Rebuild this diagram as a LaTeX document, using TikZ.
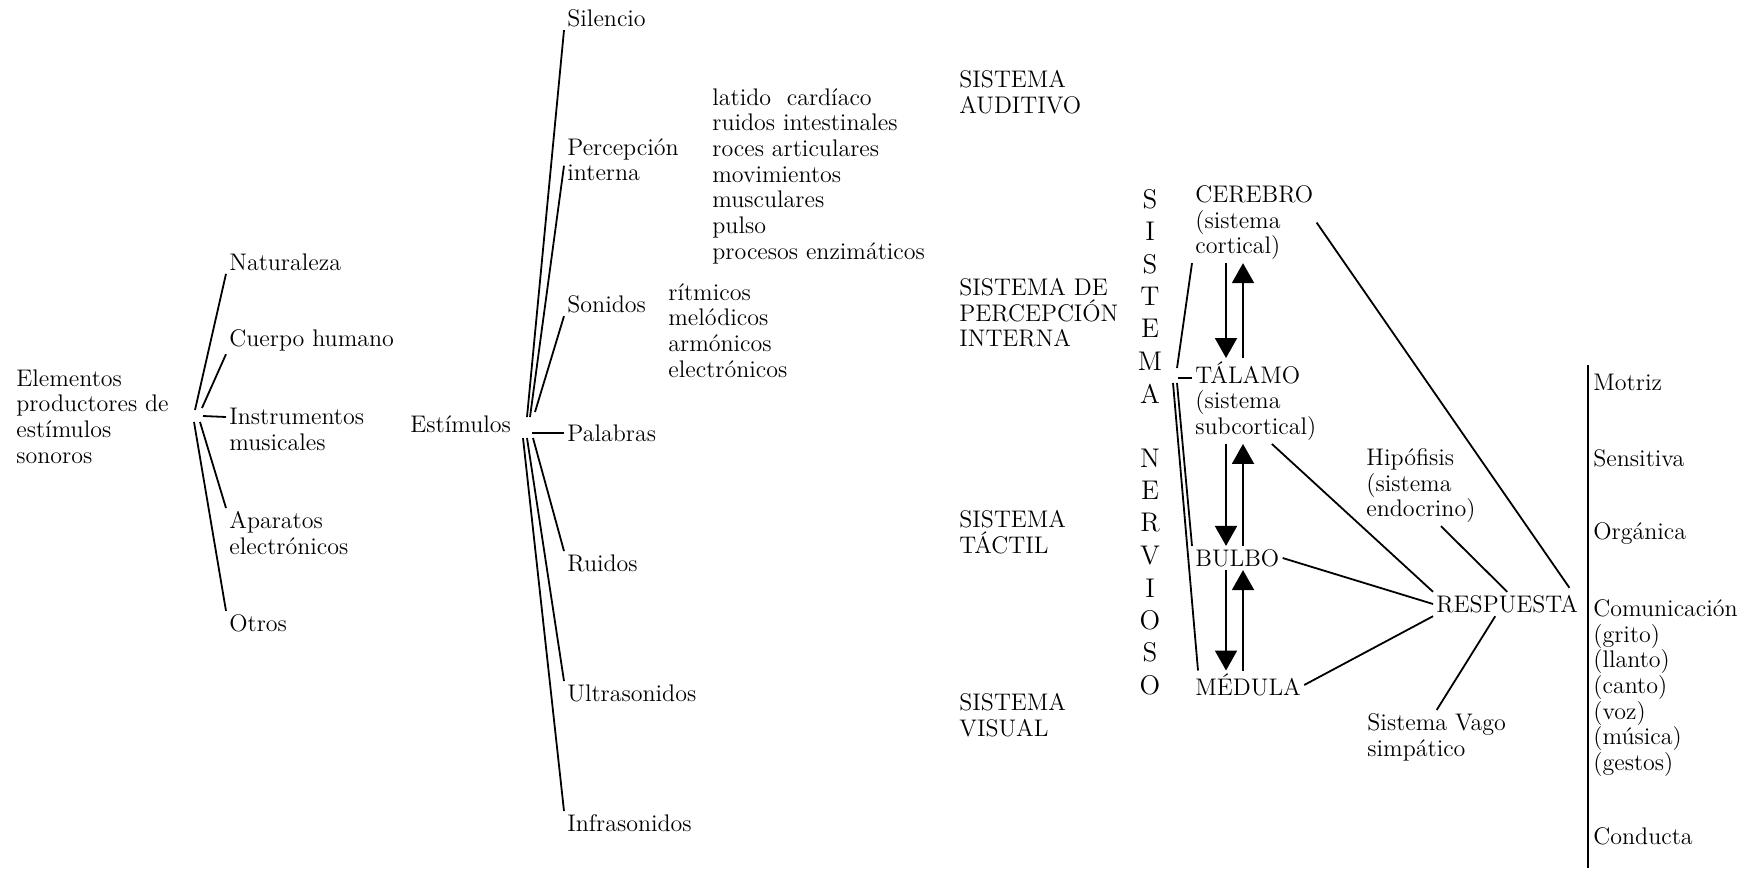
\documentclass[tikz,border=0pt]{standalone}
\usepackage{fontspec}
\usetikzlibrary{arrows.meta}

\begin{document}
\begin{tikzpicture}[
  x=0.5pt, y=-0.5pt,
  font=\fontsize{12}{12.85}\selectfont,
  every node/.style={align=left, inner sep=1.5pt},
  item/.style   = {anchor=west},
  block/.style  = {anchor=north west},
  letter/.style = {font=\fontsize{13.5}{16}\selectfont, inner sep=0pt},
  link/.style   = {line width=0.9pt},
  flow/.style   = {line width=1pt, -{Triangle[length=10pt, width=11pt]}},
]
\useasboundingbox (0,0) rectangle (1764,868);

% ── Sources ───────────────────────────────────────────────────────────────────
\node[block] (elem) at (13,366) {Elementos\\productores de\\estímulos\\sonoros};
\node[item]  (nat)  at (226,262) {Naturaleza};
\node[item]  (cue)  at (226,340) {Cuerpo humano};
\node[block] (ins)  at (226,405) {Instrumentos\\musicales};
\node[block] (apa)  at (226,508) {Aparatos\\electrónicos};
\node[item]  (otr)  at (226,623) {Otros};

\coordinate (fe) at (198,416);
\draw[link] ([xshift=-1.5pt, yshift=3pt]fe) -- (nat.south west);
\draw[link] ([xshift=2pt, yshift=4pt]fe)    -- (cue.south west);
\draw[link] ([xshift=2.5pt]fe)              -- ([yshift=-6pt]ins.north west);
\draw[link] ([xshift=1pt, yshift=-3pt]fe)   -- (apa.north west);
\draw[link] ([xshift=-2pt, yshift=-3pt]fe)  -- (otr.north west);

% ── Stimuli ───────────────────────────────────────────────────────────────────
\node[item]  (est)  at (407,424) {Estímulos};
\node[item]  (sil)  at (564,18)  {Silencio};
\node[block] (per)  at (564,135) {Percepción\\interna};
\node[item]  (son)  at (564,304) {Sonidos};
\node[item]  (pal)  at (564,433) {Palabras};
\node[item]  (rui)  at (564,563) {Ruidos};
\node[item]  (ult)  at (564,693) {Ultrasonidos};
\node[item]  (inf)  at (564,823) {Infrasonidos};

\node[block] (intl) at (709,85)
  {latido\ \ cardíaco\\ruidos intestinales\\roces articulares\\movimientos\\musculares\\pulso\\procesos enzimáticos};
\node[block] (snd)  at (665,280) {rítmicos\\melódicos\\armónicos\\electrónicos};

\coordinate (fs) at (528,428);
\draw[link] ([xshift=-0.5pt, yshift=5.5pt]fs) -- (sil.south west);
\draw[link] ([xshift=1pt, yshift=5.5pt]fs)    -- ([yshift=-3pt]per.west);
\draw[link] ([xshift=3.5pt, yshift=8pt]fs)    -- (son.south west);
\draw[link] ([xshift=2pt, yshift=-2.5pt]fs)   -- (pal.west);
\draw[link] ([xshift=2.5pt, yshift=-5pt]fs)   -- (rui.north west);
\draw[link] ([xshift=-0.5pt, yshift=-5pt]fs)  -- (ult.north west);
\draw[link] ([xshift=-2.5pt, yshift=-5pt]fs)  -- (inf.north west);

% ── Sensory systems ───────────────────────────────────────────────────────────
\node[block] (aud)  at (956,67)  {SISTEMA\\AUDITIVO};
\node[block] (pint) at (956,275) {SISTEMA DE\\PERCEPCIÓN\\INTERNA};
\node[block] (tac)  at (956,507) {SISTEMA\\TÁCTIL};
\node[block] (vis)  at (956,690) {SISTEMA\\VISUAL};

\foreach \l/\k in {S/0,I/1,S/2,T/3,E/4,M/5,A/6,N/8,E/9,R/10,V/11,I/12,O/13,S/14,O/15}{
  \node[letter] (sn\k) at (1150,199+32.4*\k) {\l};
}

% ── Nervous system levels ─────────────────────────────────────────────────────
\node[block] (cer)  at (1192,182) {CEREBRO\\(sistema\\cortical)};
\node[block] (tal)  at (1192,358) {TÁLAMO\\(sistema\\subcortical)};
\node[item]  (bul)  at (1192,558) {BULBO};
\node[item]  (med)  at (1192,685) {MÉDULA};

\coordinate (snm) at (1177,368);
\coordinate (snd) at (1178,378);
\coordinate (sna) at (1175,383);
\draw[link] (snm) -- (cer.south west);
\draw[link] (snd) -- ([yshift=-10pt]tal.north west);
\draw[link] ([xshift=1pt]sna)  -- (bul.north west);
\draw[link] ([xshift=-1pt]sna) -- ([xshift=3pt]med.north west);

\draw[flow] ([xshift=17pt]cer.south west)   -- ([xshift=17pt]tal.north west);
\draw[flow] ([xshift=25.5pt]tal.north west) -- ([xshift=25.5pt]cer.south west);
\draw[flow] ([xshift=17pt]tal.south west)   -- ([xshift=17pt]bul.north west);
\draw[flow] ([xshift=25.5pt]bul.north west) -- ([xshift=25.5pt]tal.south west);
\draw[flow] ([xshift=17pt]bul.south west)   -- ([xshift=17pt]med.north west);
\draw[flow] ([xshift=25.5pt]med.north west) -- ([xshift=25.5pt]bul.south west);

% ── Response ──────────────────────────────────────────────────────────────────
\node[item]  (resp) at (1433,604) {RESPUESTA};
\node[block] (hip)  at (1363,445) {Hipófisis\\(sistema\\endocrino)};
\node[block] (vago) at (1364,710) {Sistema Vago\\simpático};

\draw[link] (cer.east) -- ([xshift=-6pt, yshift=2pt]resp.north east);
\draw[link] ([xshift=8pt]tal.south) -- (resp.north west);
\draw[link] (bul.east) -- (resp.west);
\draw[link] (med.east) -- (resp.south west);
\draw[link] ([xshift=10pt]hip.south) -- (resp.north);
\draw[link] ([xshift=-6pt]resp.south) -- (vago.north);

% ── Kinds of response ─────────────────────────────────────────────────────────
\coordinate (bartop) at (1588,365);
\coordinate (barbot) at (1588,868);
\draw[link] (bartop) -- (barbot);

\node[item]  (mot)  at (1590,382) {Motriz};
\node[item]  (sen)  at (1590,458) {Sensitiva};
\node[item]  (org)  at (1590,533) {Orgánica};
\node[block] (com)  at (1590,596)
  {Comunicación\\(grito)\\(llanto)\\(canto)\\(voz)\\(música)\\(gestos)};
\node[item]  (cond) at (1590,836) {Conducta};

\end{tikzpicture}
\end{document}
